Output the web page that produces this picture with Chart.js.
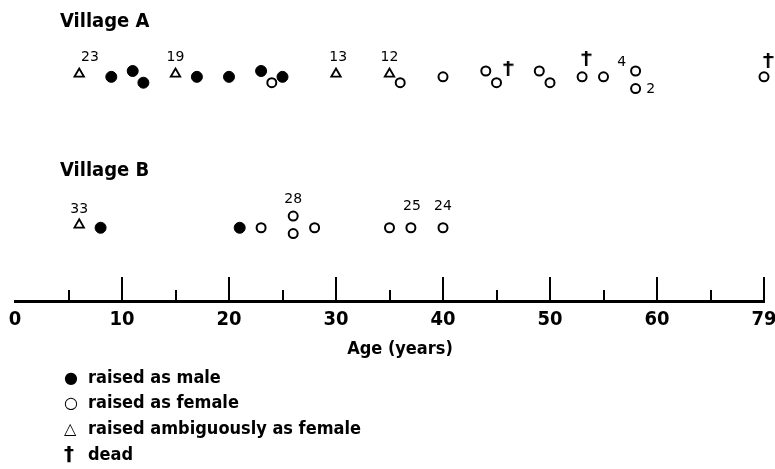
<!DOCTYPE html>
<html>
<head>
<meta charset="utf-8">
<script src="https://cdn.jsdelivr.net/npm/chart.js@4.4.1/dist/chart.umd.min.js"></script>
<style>
  body { margin: 0; background: #fff; }
  #wrap { position: relative; width: 775px; height: 469px; font-family: 'Liberation Sans Narrow', 'DejaVu Sans Condensed', sans-serif; color: #000; }
  .village { position: absolute; font-size: 20px; font-weight: bold; line-height: 1; }
  #axisTitle { position: absolute; left: 300px; width: 200px; top: 339px; text-align: center; font-size: 18px; font-weight: bold; line-height: 1; }
  #legend { position: absolute; left: 58px; top: 365px; font-size: 18px; font-weight: bold; line-height: 24.3px; }
  #legend span.m { display: inline-block; width: 24px; padding-left: 6px; text-align: left; font-family: 'DejaVu Sans', sans-serif; font-weight: normal; font-size: 16px; }
  #legend span.d { font-weight: bold; font-size: 20px; }
</style>
</head>
<body>
<div id="wrap">
  <canvas id="ageChart" width="775" height="469"></canvas>
  <div class="village" style="left:60px; top:10px;">Village A</div>
  <div class="village" style="left:60px; top:159px;">Village B</div>
  <div id="axisTitle">Age (years)</div>
  <div id="legend">
    <div><span class="m">●</span>raised as male</div>
    <div><span class="m">○</span>raised as female</div>
    <div><span class="m">△</span>raised ambiguously as female</div>
    <div><span class="m d">†</span>dead</div>
  </div>
</div>
<script>
// ages; level = small vertical stacking where marks overlap
var maleA = [9, 11, 12, 17, 20, 23, 25];
var maleALevel = [0, 1, -1, 0, 0, 1, 0];
var femaleA = [24, 36, 40, 44, 45, 49, 50, 53, 55, 58, 58, 79];
var femaleALevel = [-1, -1, 0, 1, -1, 1, -1, 0, 0, 1, -2, 0];
var ambigA = [6, 15, 30, 35];
var ambigALevel = [0.5, 0.5, 0.5, 0.5];
var deadA = [46.1, 53.4, 79.4];
var deadALevel = [1.5, 3.2, 2.8];

var maleB = [8, 21];
var maleBLevel = [0, 0];
var femaleB = [23, 26, 26, 28, 35, 37, 40];
var femaleBLevel = [0, 2, -1, 0, 0, 0, 0];
var ambigB = [6];
var ambigBLevel = [0.5];

// little numbers printed next to some marks
var notesA = ['23', '19', '13', '12', '4', '2'];
var notesAAge = [7, 15, 30.2, 35, 56.7, 59.4];
var notesALevel = [3.3, 3.3, 3.3, 3.3, 2.5, -2.2];
var notesB = ['33', '28', '25', '24'];
var notesBAge = [6, 26, 37.1, 40];
var notesBLevel = [3.1, 4.8, 3.6, 3.6];

var tickValues = [0, 5, 10, 15, 20, 25, 30, 35, 40, 45, 50, 55, 60, 65, 70];
var tickLabels = ['0', '', '10', '', '20', '', '30', '', '40', '', '50', '', '60', '', '79'];

var ROW_A = 3.06, ROW_B = 1, STEP = 0.08;
var BREAK_FROM = 70, BREAK_TO = 79;   // axis jumps from 70 straight to 79

function axisX(age) {
  return age > BREAK_FROM ? BREAK_FROM + (age - BREAK_TO) : age;
}
function pts(ages, levels, row) {
  return ages.map(function(a, i) {
    return { x: axisX(a), y: row + levels[i] * STEP };
  });
}

// dagger mark for deaths
var dagger = document.createElement('canvas');
dagger.width = 11; dagger.height = 15;
var dctx = dagger.getContext('2d');
dctx.fillStyle = '#000';
dctx.fillRect(4, 0, 2.5, 15);
dctx.fillRect(0.5, 3, 10, 2.2);

var notePlugin = {
  id: 'notes',
  afterDatasetsDraw: function(chart) {
    var c = chart.ctx, xs = chart.scales.x, ys = chart.scales.y;
    c.save();
    c.fillStyle = '#000';
    c.font = '14px "DejaVu Sans", sans-serif';
    c.textAlign = 'center';
    c.textBaseline = 'middle';
    notesA.forEach(function(t, i) {
      c.fillText(t, xs.getPixelForValue(axisX(notesAAge[i])), ys.getPixelForValue(ROW_A + notesALevel[i] * STEP));
    });
    notesB.forEach(function(t, i) {
      c.fillText(t, xs.getPixelForValue(axisX(notesBAge[i])), ys.getPixelForValue(ROW_B + notesBLevel[i] * STEP));
    });
    // tick marks stand up from the axis line
    var base = chart.chartArea.bottom;
    c.lineWidth = 2;
    c.strokeStyle = '#000';
    tickValues.forEach(function(v) {
      if (v === 0) return;
      var px = Math.round(xs.getPixelForValue(v));
      var len = v % 10 === 0 ? 24 : 11;
      c.beginPath();
      c.moveTo(px, base);
      c.lineTo(px, base - len);
      c.stroke();
    });
    c.restore();
  }
};

var ctx = document.getElementById('ageChart').getContext('2d');
var chart = new Chart(ctx, {
  type: 'scatter',
  data: {
    datasets: [
      { label: 'raised as male', data: pts(maleA, maleALevel, ROW_A).concat(pts(maleB, maleBLevel, ROW_B)),
        pointStyle: 'circle', pointRadius: 5.5, backgroundColor: '#000', borderColor: '#000', borderWidth: 1 },
      { label: 'raised as female', data: pts(femaleA, femaleALevel, ROW_A).concat(pts(femaleB, femaleBLevel, ROW_B)),
        pointStyle: 'circle', pointRadius: 4.5, backgroundColor: '#fff', borderColor: '#000', borderWidth: 2 },
      { label: 'raised ambiguously as female', data: pts(ambigA, ambigALevel, ROW_A).concat(pts(ambigB, ambigBLevel, ROW_B)),
        pointStyle: 'triangle', pointRadius: 5.5, backgroundColor: '#fff', borderColor: '#000', borderWidth: 1.8 },
      { label: 'dead', data: pts(deadA, deadALevel, ROW_A),
        pointStyle: dagger, pointRadius: 7 }
    ]
  },
  options: {
    responsive: false,
    animation: false,
    events: [],
    clip: false,
    layout: { padding: { left: 15, right: 11, top: 0, bottom: 104 } },
    plugins: { legend: { display: false }, tooltip: { enabled: false } },
    scales: {
      x: {
        type: 'linear', min: 0, max: 70,
        afterFit: function(scale) {
          scale.height = 64;
          scale.paddingLeft = 0;
          scale.paddingRight = 0;
        },
        afterBuildTicks: function(scale) {
          scale.ticks = tickValues.map(function(v) { return { value: v }; });
        },
        grid: { display: false, drawTicks: false },
        border: { display: true, color: '#000', width: 3 },
        ticks: {
          autoSkip: false, maxRotation: 0, padding: 7, color: '#000',
          font: { family: "'Liberation Sans Narrow', 'DejaVu Sans Condensed', sans-serif", size: 20, weight: 'bold' },
          callback: function(v, i) { return tickLabels[i]; }
        },
        title: { display: false }
      },
      y: { display: false, min: 0, max: 4 }
    }
  },
  plugins: [notePlugin]
});
</script>
</body>
</html>
